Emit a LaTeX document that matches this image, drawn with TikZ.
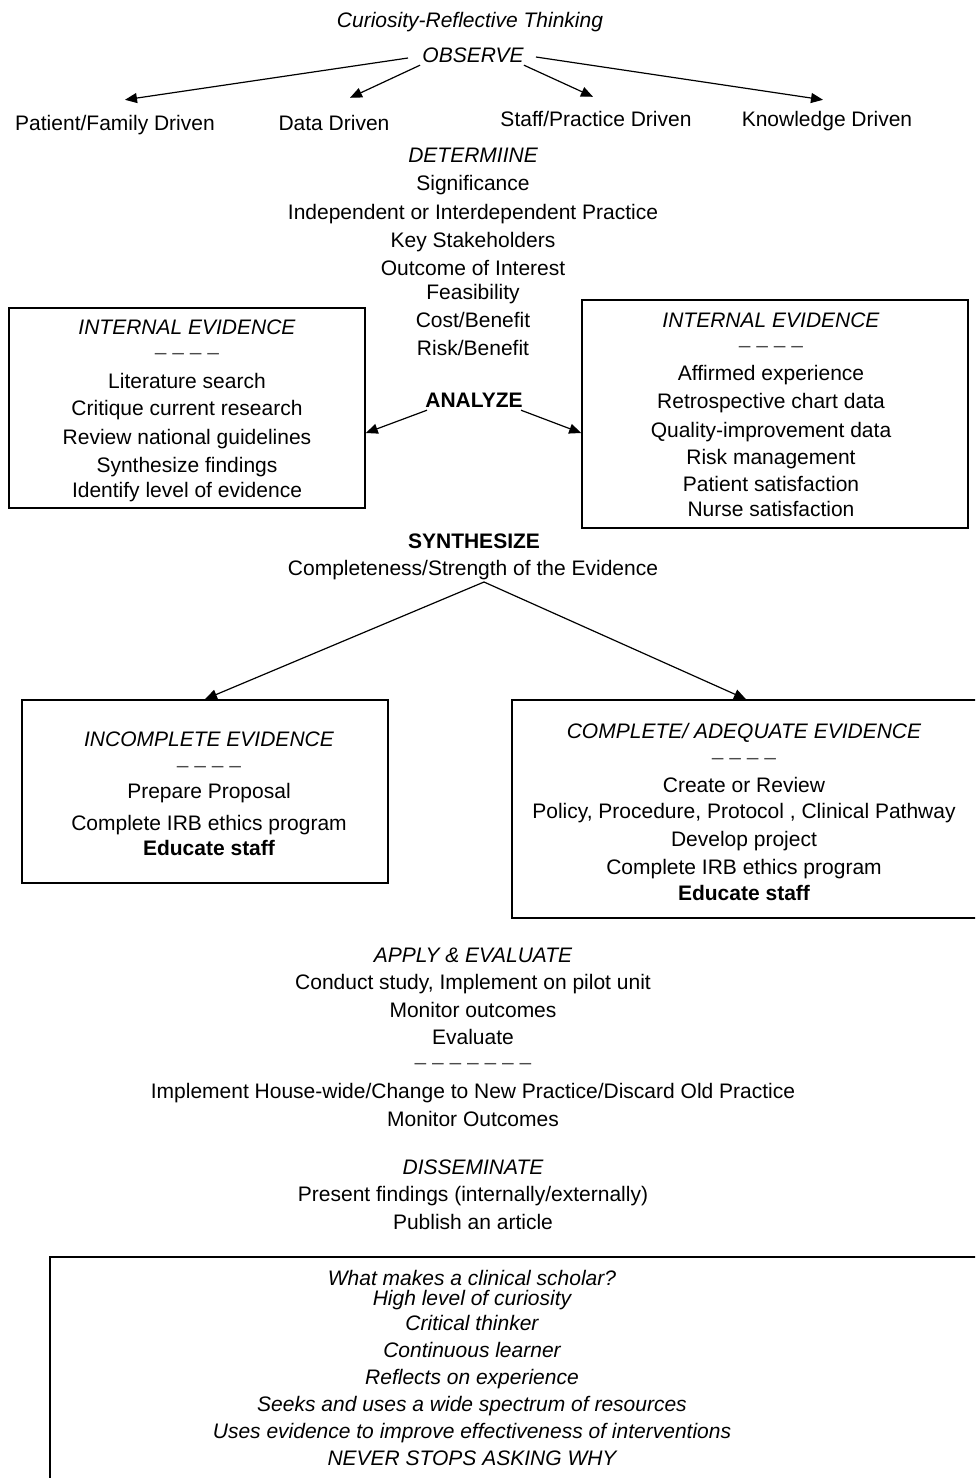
\documentclass[tikz,border=0pt]{standalone}
\usepackage{fontspec}
\setmainfont{Liberation Sans}
\usetikzlibrary{arrows.meta,calc}
\begin{document}
\begin{tikzpicture}[x=0.5pt,y=-0.5pt,
  txt/.style={inner sep=0pt, text height=7.6pt, text depth=0.2pt,
              font=\fontsize{10.5}{12}\selectfont},
  itx/.style={txt, font=\fontsize{10.5}{12}\selectfont\itshape},
  bfx/.style={txt, font=\fontsize{10.5}{12}\selectfont\bfseries},
  sep/.style={txt, text=black!70},
  frame/.style={draw, line width=0.8pt, inner sep=0pt},
  arr/.style={line width=0.6pt, -{Triangle[length=6pt,width=5pt]}},
]
\useasboundingbox (0,0) rectangle (975,1478);
\clip (0,0) rectangle (975,1478);

% --- Observe ---
\node[itx] (title) at (470,20) {Curiosity-Reflective Thinking};
\node[itx] (observe) at (473,55) {OBSERVE};
\node[txt] (pf) at (115,123) {Patient/Family Driven};
\node[txt] (dd) at (334,123) {Data Driven};
\node[txt] (sp) at (596,119) {Staff/Practice Driven};
\node[txt] (kd) at (827,119) {Knowledge Driven};
\draw[arr] ($(observe.west)+(-14,3)$) -- ($(pf.north)+(10,-15)$);
\draw[arr] ($(observe.south west)+(-2,2)$) -- ($(dd.north)+(16,-17)$);
\draw[arr] ($(observe.south east)+(0,2)$) -- ($(sp.north)+(-3,-14)$);
\draw[arr] ($(observe.east)+(12,2)$) -- ($(kd.north)+(-4,-11)$);

% --- Determine ---
\node[itx] (determine) at (473,155) {DETERMIINE};
\node[txt] (d1) at (473,183) {Significance};
\node[txt] (d2) at (473,212) {Independent or Interdependent Practice};
\node[txt] (d3) at (473,240) {Key Stakeholders};
\node[txt] (d4) at (473,268) {Outcome of Interest};
\node[txt] (d5) at (473,292) {Feasibility};
\node[txt] (d6) at (473,320) {Cost/Benefit};
\node[txt] (d7) at (473,348) {Risk/Benefit};

% --- Analyze: two evidence boxes ---
\node[frame, minimum width=178pt, minimum height=100pt] (ie1) at (187,408) {};
\node[itx] (ie1t) at (187,327) {INTERNAL EVIDENCE};
\node[sep] (ie1s) at (187,352) {– – – –};
\node[txt] (ie1a) at (187,381) {Literature search};
\node[txt] (ie1b) at (187,408) {Critique current research};
\node[txt] (ie1c) at (187,437) {Review national guidelines};
\node[txt] (ie1d) at (187,465) {Synthesize findings};
\node[txt] (ie1e) at (187,490) {Identify level of evidence};

\node[frame, minimum width=193pt, minimum height=114pt] (ie2) at (775,414) {};
\node[itx] (ie2t) at (771,320) {INTERNAL EVIDENCE};
\node[sep] (ie2s) at (771,345) {– – – –};
\node[txt] (ie2a) at (771,373) {Affirmed experience};
\node[txt] (ie2b) at (771,401) {Retrospective chart data};
\node[txt] (ie2c) at (771,430) {Quality-improvement data};
\node[txt] (ie2d) at (771,457) {Risk management};
\node[txt] (ie2e) at (771,484) {Patient satisfaction};
\node[txt] (ie2f) at (771,509) {Nurse satisfaction};

\node[bfx] (analyze) at (474,400) {ANALYZE};
\draw[arr] ($(analyze.south west)+(2,2)$) -- ($(ie1.east)+(0,25)$);
\draw[arr] ($(analyze.south east)+(-2,2)$) -- ($(ie2.west)+(0,19)$);

% --- Synthesize ---
\node[bfx] (synth) at (474,541) {SYNTHESIZE};
\node[txt] (compl) at (473,568) {Completeness/Strength of the Evidence};
\coordinate (fork) at (484,582);

\node[frame, minimum width=183pt, minimum height=91.5pt] (ince) at (205,791.5) {};
\node[itx] (incet) at (209,739) {INCOMPLETE EVIDENCE};
\node[sep] (inces) at (209,765) {– – – –};
\node[txt] (incea) at (209,791) {Prepare Proposal};
\node[txt] (inceb) at (209,823) {Complete IRB ethics program};
\node[bfx] (incec) at (209,848) {Educate staff};

\node[frame, minimum width=234pt, minimum height=109pt] (cmpe) at (746,809) {};
\node[itx] (cmpet) at (744,731) {COMPLETE/ ADEQUATE EVIDENCE};
\node[sep] (cmpes) at (744,757) {– – – –};
\node[txt] (cmpea) at (744,785) {Create or Review};
\node[txt] (cmpeb) at (744,811) {Policy, Procedure, Protocol , Clinical Pathway};
\node[txt] (cmpec) at (744,839) {Develop project};
\node[txt] (cmped) at (744,867) {Complete IRB ethics program};
\node[bfx] (cmpee) at (744,893) {Educate staff};

\draw[arr] (fork) -- (ince.north);
\draw[arr] (fork) -- (cmpe.north);

% --- Apply & evaluate ---
\node[itx] (apply) at (473,955) {APPLY \& EVALUATE};
\node[txt] (a1) at (473,982) {Conduct study, Implement on pilot unit};
\node[txt] (a2) at (473,1010) {Monitor outcomes};
\node[txt] (a3) at (473,1037) {Evaluate};
\node[sep] (as) at (473,1062) {– – – – – – –};
\node[txt] (a4) at (473,1091) {Implement House-wide/Change to New Practice/Discard Old Practice};
\node[txt] (a5) at (473,1119) {Monitor Outcomes};

% --- Disseminate ---
\node[itx] (dissem) at (473,1167) {DISSEMINATE};
\node[txt] (s1) at (473,1194) {Present findings (internally/externally)};
\node[txt] (s2) at (473,1222) {Publish an article};

% --- Clinical scholar box ---
\node[frame, minimum width=467.5pt, minimum height=116.5pt] (scholar) at (517.5,1373.5) {};
\node[itx] (c0) at (472,1278) {What makes a clinical scholar?};
\node[itx] (c1) at (472,1298) {High level of curiosity};
\node[itx] (c2) at (472,1323) {Critical thinker};
\node[itx] (c3) at (472,1350) {Continuous learner};
\node[itx] (c4) at (472,1377) {Reflects on experience};
\node[itx] (c5) at (472,1404) {Seeks and uses a wide spectrum of resources};
\node[itx] (c6) at (472,1431) {Uses evidence to improve effectiveness of interventions};
\node[itx] (c7) at (472,1458) {NEVER STOPS ASKING WHY};
\end{tikzpicture}
\end{document}
